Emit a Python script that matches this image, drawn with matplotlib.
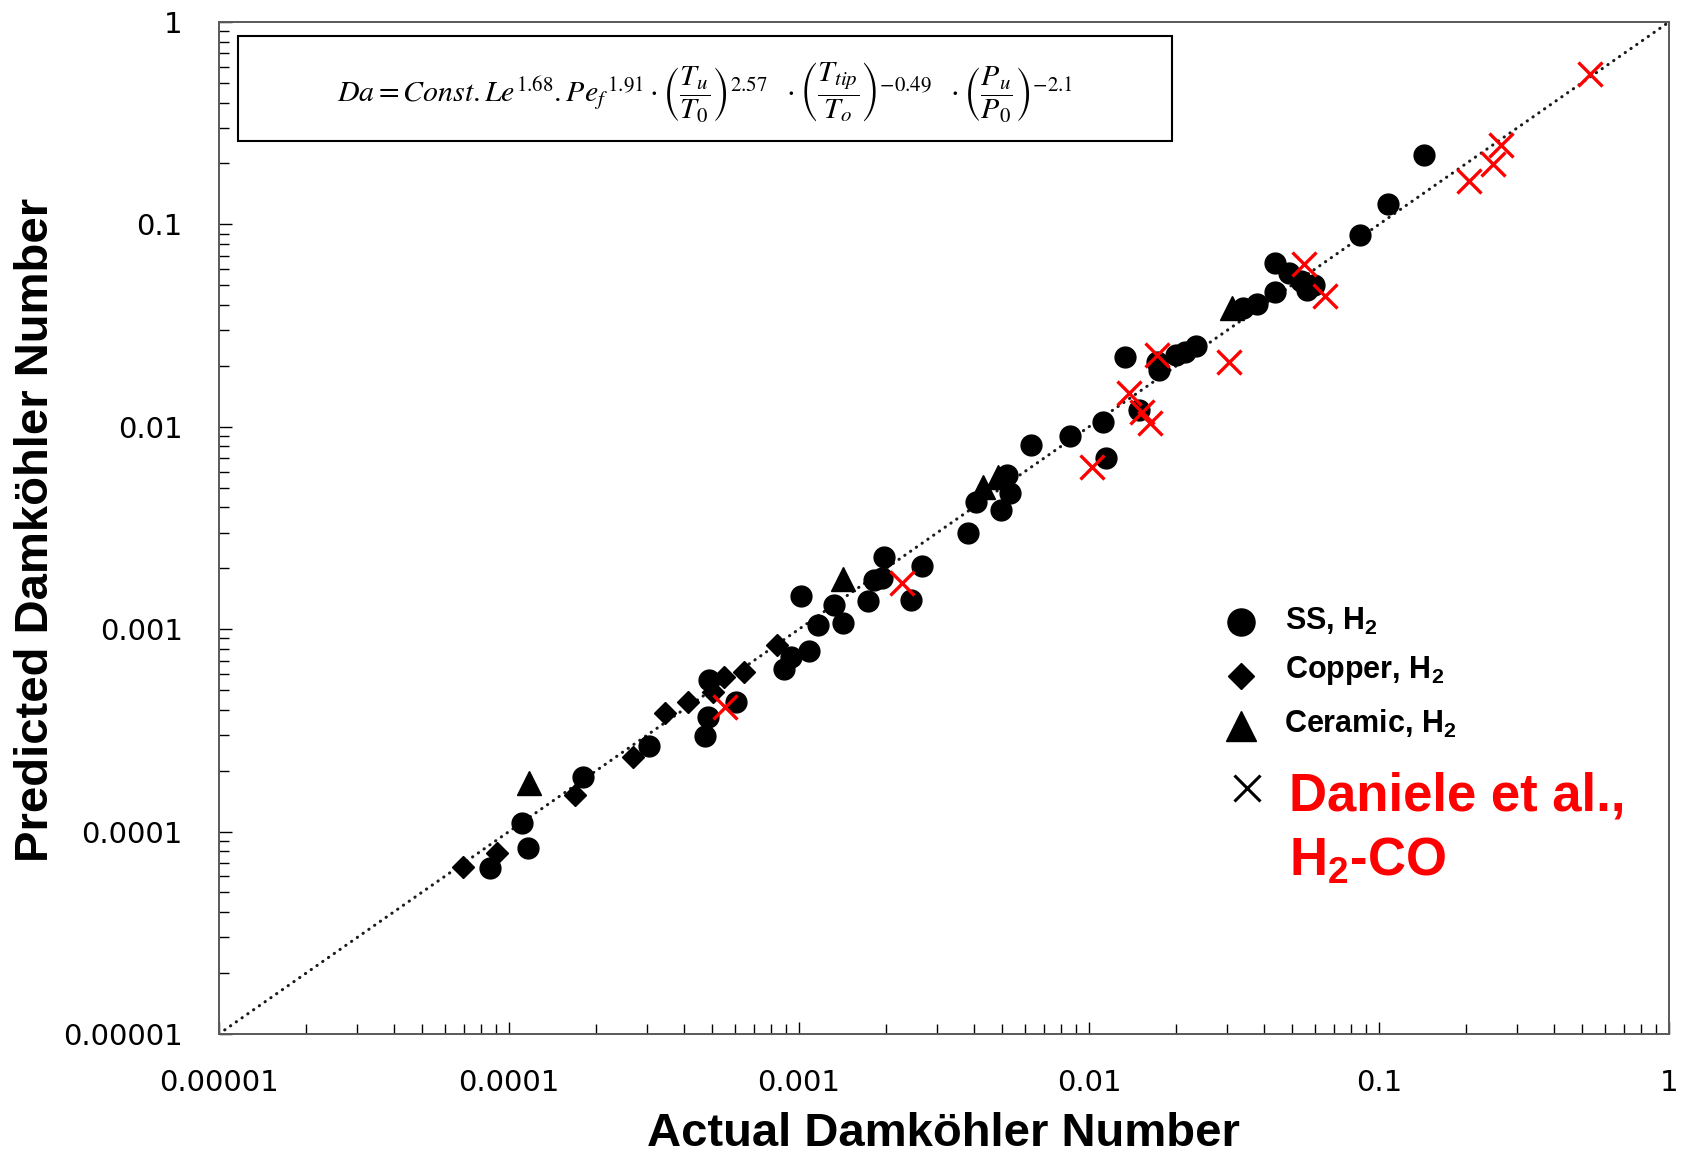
import matplotlib
matplotlib.use("Agg")
import matplotlib.pyplot as plt
from matplotlib.patches import Rectangle
from matplotlib.ticker import LogLocator, NullFormatter, FixedLocator

plt.rcParams['mathtext.fontset'] = 'custom'
plt.rcParams['mathtext.rm'] = 'Liberation Sans:bold'
plt.rcParams['mathtext.bf'] = 'Liberation Sans:bold'

# SS, H2 (actual, predicted)
ss_actual = [0.143, 0.107, 0.0859, 0.0437, 0.0490, 0.0538, 0.0597, 0.0565, 0.0437,
             0.0379, 0.0340, 0.0234, 0.0214, 0.0200, 0.0133, 0.0171, 0.0174, 0.0149,
             0.01116, 0.00859, 0.00631, 0.01145, 0.00521, 0.00535, 0.00407, 0.00497,
             0.00383, 0.00265, 0.00196, 0.00243, 0.00181, 0.00193, 0.00102, 0.00132,
             0.00173, 0.00116, 0.00142, 0.000937, 0.00108, 0.000887, 0.000490,
             0.000607, 0.000485, 0.000476, 0.000304, 0.000180, 0.000111, 0.000116,
             8.59e-5]
ss_pred = [0.220, 0.126, 0.0888, 0.0644, 0.0575, 0.0525, 0.0502, 0.0474, 0.0463,
           0.0405, 0.0387, 0.0251, 0.0235, 0.0226, 0.0221, 0.0209, 0.0191, 0.0121,
           0.01057, 0.00902, 0.00813, 0.00702, 0.00578, 0.00471, 0.00425, 0.00388,
           0.00299, 0.00205, 0.00228, 0.00139, 0.00175, 0.00179, 0.00146, 0.00132,
           0.00138, 0.00105, 0.00107, 0.000729, 0.000780, 0.000636, 0.000561,
           0.000436, 0.000368, 0.000296, 0.000265, 0.000186, 0.000110, 8.30e-5,
           6.61e-5]

# Copper, H2
cu_actual = [0.000839, 0.000645, 0.000551, 0.000505, 0.000414, 0.000345,
             0.000268, 0.000169, 9.10e-5, 6.93e-5]
cu_pred = [0.000836, 0.000615, 0.000580, 0.000490, 0.000436, 0.000385,
           0.000234, 0.000152, 7.84e-5, 6.68e-5]

# Ceramic, H2
cer_actual = [0.0311, 0.00430, 0.00485, 0.00142, 0.000117]
cer_pred = [0.0387, 0.00505, 0.00565, 0.00177, 0.000173]

# Daniele et al., H2-CO
dan_actual = [0.535, 0.264, 0.247, 0.204, 0.0551, 0.0652, 0.0304, 0.0171,
              0.0137, 0.0152, 0.0162, 0.01023, 0.00226, 0.000556]
dan_pred = [0.553, 0.247, 0.199, 0.164, 0.0637, 0.0443, 0.0209, 0.0226,
            0.0147, 0.0118, 0.01045, 0.00632, 0.00169, 0.000413]

decades = [1e-5, 1e-4, 1e-3, 1e-2, 1e-1, 1]
decade_labels = ['0.00001', '0.0001', '0.001', '0.01', '0.1', '1']

fig = plt.figure(figsize=(16.92, 11.59), dpi=100)
ax = fig.add_axes([0.1294, 0.1079, 0.857, 0.8731])

# 1:1 parity line
ax.plot([decades[0], decades[-1]], [decades[0], decades[-1]], color='#1a1a1a',
        lw=2.2, linestyle=(0, (0.1, 2.2)), dash_capstyle='round', zorder=1)

ax.plot(cer_actual, cer_pred, '^', color='black', ms=17, zorder=2)
ax.plot(ss_actual, ss_pred, 'o', color='black', ms=15, zorder=3)
ax.plot(cu_actual, cu_pred, 'D', color='black', ms=11.5, zorder=3)
ax.plot(dan_actual, dan_pred, 'x', color='#ff0000', ms=17, mew=2.4, zorder=4)

ax.set_xscale('log')
ax.set_yscale('log')
ax.set_xlim(decades[0], decades[-1])
ax.set_ylim(decades[0], decades[-1])

for axis in (ax.xaxis, ax.yaxis):
    axis.set_major_locator(FixedLocator(decades))
    axis.set_minor_locator(LogLocator(base=10, subs=range(2, 10), numticks=20))
    axis.set_minor_formatter(NullFormatter())
ax.set_xticklabels(decade_labels)
ax.set_yticklabels(decade_labels)
ax.tick_params(which='both', direction='in', top=False, right=False,
               labelsize=21, colors='black', width=1)
ax.tick_params(axis='x', which='major', length=9, pad=25)
ax.tick_params(axis='y', which='major', length=9, pad=26)
ax.tick_params(which='minor', length=7)
for lab in ax.get_xticklabels() + ax.get_yticklabels():
    lab.set_family('DejaVu Sans')

for sp in ax.spines.values():
    sp.set_color('#595959')
    sp.set_linewidth(1.4)

# correlation box
ax.add_patch(Rectangle((0.0131, 0.882), 0.644, 0.104, transform=ax.transAxes,
                       fill=False, edgecolor='black', lw=1.5, zorder=5))
eq = (r'$Da = Const.Le^{1.68}.{Pe_f}^{\,1.91}\cdot\left(\dfrac{T_u}{T_0}\right)^{2.57}'
      r'\ \ \cdot\left(\dfrac{T_{tip}}{T_o}\right)^{-0.49}'
      r'\ \ \cdot\left(\dfrac{P_u}{P_0}\right)^{-2.1}$')
ax.text(0.335, 0.931, eq, transform=ax.transAxes, ha='center', va='center',
        fontsize=21.5, math_fontfamily='stix', zorder=6)

# hand-placed legend
mx = 0.7048
ax.plot(mx, 0.4071, 'o', color='black', ms=19.5, transform=ax.transAxes, clip_on=False)
ax.plot(mx, 0.3538, 'D', color='black', ms=13, transform=ax.transAxes, clip_on=False)
ax.plot(mx, 0.3043, '^', color='black', ms=22, transform=ax.transAxes, clip_on=False)
ax.plot(mx + 0.004, 0.2431, 'x', color='black', ms=19, mew=2.2,
        transform=ax.transAxes, clip_on=False)

tx = 0.7352
leg_font = dict(family='Liberation Sans', weight='bold', fontsize=22,
                transform=ax.transAxes, va='baseline', ha='left')
ax.text(tx, 0.3992, r'SS, H$_\mathrm{2}$', **leg_font)
ax.text(tx, 0.3518, r'Copper, H$_\mathrm{2}$', **leg_font)
ax.text(tx - 0.0007, 0.2974, r'Ceramic, H$_\mathrm{2}$', **leg_font)
red_font = dict(family='Liberation Sans', weight='bold', fontsize=38, color='#ff0000',
                transform=ax.transAxes, va='baseline', ha='left')
ax.text(tx + 0.0028, 0.2213, 'Daniele et al.,', **red_font)
ax.text(tx + 0.0028, 0.1571, r'H$_\mathrm{2}$-CO', **red_font)

label_font = dict(family='Liberation Sans', weight='bold', fontsize=34,
                  ha='center', va='center')
fig.text(943 / 1692, 1 - 1134 / 1159, 'Actual Damköhler Number', **label_font)
fig.text(36 / 1692, 1 - 530 / 1159, 'Predicted Damköhler Number', rotation=90,
         **label_font)

fig.savefig('out.png', dpi=100)
